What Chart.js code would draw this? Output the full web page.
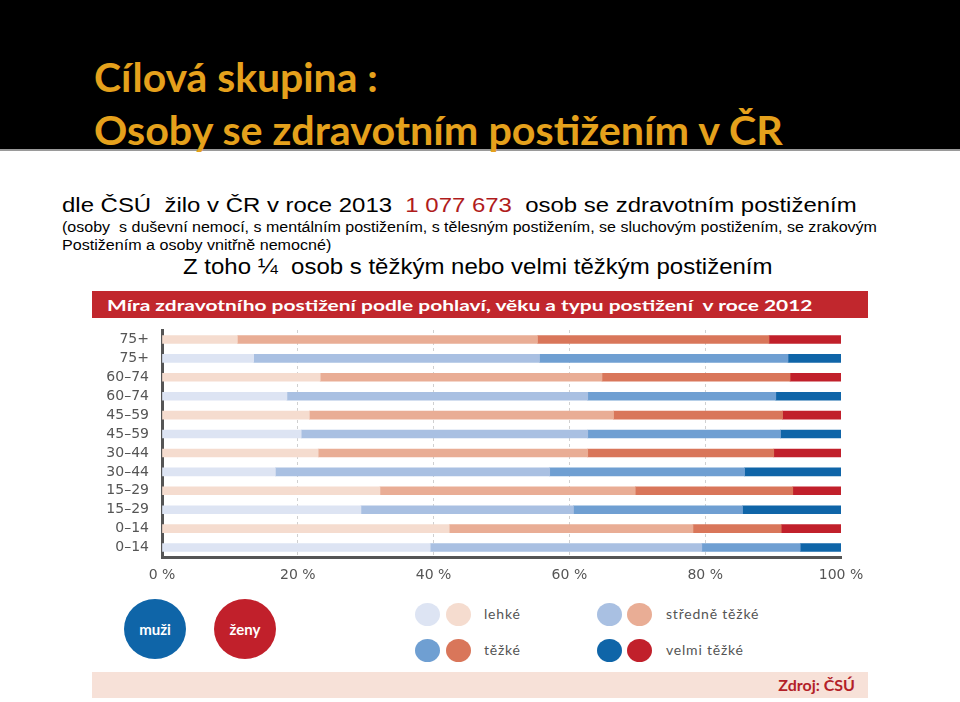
<!DOCTYPE html>
<html>
<head>
<meta charset="utf-8">
<script src="https://cdn.jsdelivr.net/npm/chart.js@4.4.0/dist/chart.umd.min.js"></script>
<style>
  body { margin: 0; width: 960px; height: 702px; background: #fff; position: relative; overflow: hidden; font-family: "Liberation Sans", Arial, sans-serif; }
  .abs { position: absolute; white-space: pre; }
  #head { position: absolute; left: 0; top: 0; width: 960px; height: 149px; background: #000; border-bottom: 2px solid #9a9a9a; }
  .title { font-family: Lato, sans-serif; font-weight: bold; font-size: 40px; line-height: 40px; color: #e5a11c; }
  .fit { transform-origin: left center; display: inline-block; }
  #band { position: absolute; left: 92px; top: 291px; width: 776px; height: 27px; background: #c1272d; }
  #src { position: absolute; left: 92px; top: 672px; width: 776px; height: 26px; background: #f7e1d8; }
  .dot { position: absolute; border-radius: 50%; }
  .lg { font-family: Lato, sans-serif; font-size: 14px; color: #555; line-height: 20px; letter-spacing: 0.8px; }
  .big { font-family: Lato, sans-serif; font-weight: bold; font-size: 15px; color: #fff; text-align: center; line-height: 60px; }
</style>
</head>
<body>
<div id="head"></div>
<div class="abs title fit" data-w="284" style="left:94px; top:57px;">Cílová skupina :</div>
<div class="abs title fit" data-w="689" style="left:94px; top:110px;">Osoby se zdravotním postižením v ČR</div>

<div class="abs fit" data-w="795" style="left:62px; top:194px; font-size:20px; line-height:22px; color:#000;">dle ČSÚ  žilo v ČR v roce 2013  <span style="color:#b01c1c">1 077 673</span>  osob se zdravotním postižením</div>
<div class="abs fit" data-w="815" style="left:62px; top:219px; font-size:14px; line-height:16px; color:#000;">(osoby  s duševní nemocí, s mentálním postižením, s tělesným postižením, se sluchovým postižením, se zrakovým</div>
<div class="abs fit" data-w="269" style="left:62px; top:237px; font-size:14px; line-height:16px; color:#000;">Postižením a osoby vnitřně nemocné)</div>
<div class="abs fit" data-w="589" style="left:183px; top:255px; font-size:22px; line-height:24px; color:#000;">Z toho ¼  osob s těžkým nebo velmi těžkým postižením</div>

<div id="band"></div>
<div class="abs fit" data-w="705" style="left:107px; top:295px; font-family:Lato,sans-serif; font-weight:bold; font-size:16px; line-height:20px; color:#fff;">Míra zdravotního postižení podle pohlaví, věku a typu postižení  v roce 2012</div>

<canvas id="chart" width="790" height="270" style="position:absolute; left:90px; top:322px;"></canvas>

<div class="dot big" style="left:124px; top:599px; width:62px; height:60px; background:#0f65a8;">muži</div>
<div class="dot big" style="left:214px; top:599px; width:62px; height:60px; background:#c1202b;">ženy</div>

<div class="dot" style="left:415px; top:603px; width:25px; height:23px; background:#dde4f3;"></div>
<div class="dot" style="left:446px; top:603px; width:25px; height:23px; background:#f5dccf;"></div>
<div class="abs lg" style="left:484px; top:604px;">lehké</div>
<div class="dot" style="left:597px; top:603px; width:25px; height:23px; background:#a9c0e2;"></div>
<div class="dot" style="left:627px; top:603px; width:25px; height:23px; background:#e9ad95;"></div>
<div class="abs lg" style="left:666px; top:604px;">středně těžké</div>

<div class="dot" style="left:415px; top:639px; width:25px; height:23px; background:#6f9fd2;"></div>
<div class="dot" style="left:446px; top:639px; width:25px; height:23px; background:#d9765a;"></div>
<div class="abs lg" style="left:484px; top:640px;">těžké</div>
<div class="dot" style="left:597px; top:639px; width:25px; height:23px; background:#0f65a8;"></div>
<div class="dot" style="left:627px; top:639px; width:25px; height:23px; background:#c1202b;"></div>
<div class="abs lg" style="left:666px; top:640px;">velmi těžké</div>

<div id="src"></div>
<div class="abs" style="left:760px; top:675px; width:95px; text-align:right; font-family:Lato,sans-serif; font-weight:bold; font-size:16px; line-height:20px; color:#b31f29;">Zdroj: ČSÚ</div>

<script>
// age groups, top to bottom (pairs: ženy, muži)
var labels = ['75+', '75+', '60–74', '60–74', '45–59', '45–59', '30–44', '30–44', '15–29', '15–29', '0–14', '0–14'];
var pohlavi = ['F', 'M', 'F', 'M', 'F', 'M', 'F', 'M', 'F', 'M', 'F', 'M'];

// share of people by degree of disability (%)
var lehke   = [11.1, 13.5, 23.3, 18.4, 21.7, 20.5, 23.0, 16.7, 32.1, 29.3, 42.3, 39.5];
var stredne = [44.2, 42.1, 41.5, 44.3, 44.8, 42.2, 39.7, 40.4, 37.6, 31.3, 35.9, 40.0];
var tezke   = [34.1, 36.6, 27.7, 27.7, 24.9, 28.4, 27.4, 28.7, 23.2, 24.9, 13.0, 14.5];
var velmi   = [10.6,  7.8,  7.5,  9.6,  8.6,  8.9,  9.9, 14.2,  7.1, 14.5,  8.8,  6.0];

var xTicks = [0, 20, 40, 60, 80, 100];

var barvyM = ['#dde4f3', '#a9c0e2', '#6f9fd2', '#0f65a8'];
var barvyF = ['#f5dccf', '#e9ad95', '#d9765a', '#c1202b'];

function colors(i) {
    return pohlavi.map(function(p){ return p == 'M' ? barvyM[i] : barvyF[i]; });
}

var series = [
    {label: 'lehké', data: lehke},
    {label: 'středně těžké', data: stredne},
    {label: 'těžké', data: tezke},
    {label: 'velmi těžké', data: velmi}
];

var ds = series.map(function(s, i){
    return {
        label: s.label,
        data: s.data,
        backgroundColor: colors(i),
        borderWidth: 0,
        barThickness: 8
    };
});

Chart.defaults.font.family = '"DejaVu Sans", sans-serif';

new Chart(document.getElementById('chart'), {
    type: 'bar',
    data: { labels: labels, datasets: ds },
    options: {
        indexAxis: 'y',
        responsive: false,
        animation: false,
        devicePixelRatio: 1,
        layout: { padding: { top: 8, right: 39, left: 0, bottom: 0 } },
        plugins: { legend: { display: false }, tooltip: { enabled: false } },
        scales: {
            x: {
                stacked: true,
                min: 0, max: 100,
                afterBuildTicks: function(s){ s.ticks = xTicks.map(function(v){ return {value: v}; }); },
                afterFit: function(s){ s.height = 35; s.paddingLeft = 0; s.paddingRight = 0; },
                grid: {
                    color: function(c){ return (c.tick && (c.tick.value == 0 || c.tick.value == 100)) ? 'rgba(0,0,0,0)' : '#d0d0d0'; },
                    lineWidth: 1,
                    drawTicks: false
                },
                // in v4 border.dash also dashes the grid lines
                border: { display: true, color: '#555', width: 3, dash: [3, 3] },
                ticks: {
                    padding: 10,
                    color: '#555',
                    font: { size: 14 },
                    callback: function(v){ return v + ' %'; }
                }
            },
            y: {
                stacked: true,
                afterFit: function(s){ s.width = 72; s.paddingTop = 0; s.paddingBottom = 0; },
                grid: { display: false, drawTicks: false },
                border: { display: true, color: '#555', width: 3 },
                ticks: { padding: 13, color: '#555', font: { size: 14 }, autoSkip: false }
            }
        }
    }
});

document.fonts.ready.then(function(){
    document.querySelectorAll('.fit').forEach(function(el){
        var w = parseFloat(el.getAttribute('data-w'));
        el.style.transform = 'scaleX(' + (w / el.offsetWidth) + ')';
    });
});
</script>
</body>
</html>
